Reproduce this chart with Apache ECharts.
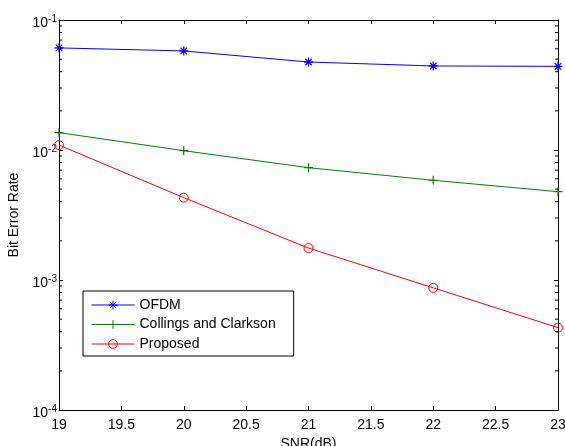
<!DOCTYPE html>
<html><head><meta charset="utf-8">
<script src="https://cdn.jsdelivr.net/npm/echarts@6/dist/echarts.min.js"></script>
<style>html,body{margin:0;padding:0;background:#fff}#c{width:565px;height:446px}</style>
</head><body><div id="c"></div>
<script>
var snr = [19, 20, 21, 22, 23];
var ofdm = [0.061, 0.0578, 0.0475, 0.0443, 0.0440];
var collings = [0.0136, 0.00988, 0.00731, 0.00585, 0.00478];
var proposed = [0.0109, 0.0043, 0.00176, 0.00087, 0.00043];
var seriesNames = ['OFDM', 'Collings and Clarkson', 'Proposed'];
var xLabel = 'SNR(dB)';
var yLabel = 'Bit Error Rate';
var minorTickValues = [];
[-4, -3, -2].forEach(function (k) { for (var m = 2; m <= 9; m++) minorTickValues.push(m * Math.pow(10, k)); });

var FONT = 'Liberation Sans, Arial, Helvetica, sans-serif';
var FS = 14;
function pairs(ys) { return snr.map(function (x, i) { return [x, ys[i]]; }); }
var asterisk = 'path://M0,-5L0,5M-5,0L5,0M-3.6,-3.6L3.6,3.6M-3.6,3.6L3.6,-3.6';
var plus = 'path://M0,-5L0,5M-5,0L5,0';

var xCommon = { type: 'value', min: 19, max: 23, interval: 0.5, splitLine: { show: false },
  axisLine: { lineStyle: { color: '#000', width: 1 } },
  axisTick: { inside: true, length: 4, lineStyle: { color: '#000' } } };
var yCommon = { type: 'log', logBase: 10, min: 0.0001, max: 0.1, splitLine: { show: false },
  axisLine: { lineStyle: { color: '#000', width: 1 } },
  axisTick: { inside: true, length: 4, lineStyle: { color: '#000' } } };

var chart = echarts.init(document.getElementById('c'));
chart.setOption({
  animation: false,
  backgroundColor: '#fff',
  grid: { left: 59, right: 7, top: 20, bottom: 36, containLabel: false, outerBoundsMode: 'none' },
  legend: {
    data: seriesNames, orient: 'vertical', left: 83, top: 291,
    itemWidth: 43, itemHeight: 11, itemGap: 5.5,
    padding: [7, 18, 5, 8], borderColor: '#000', borderWidth: 1, backgroundColor: '#fff',
    lineStyle: { width: 1 },
    itemStyle: { borderWidth: 1 },
    textStyle: { fontFamily: FONT, fontSize: FS, color: '#000' }
  },
  xAxis: [
    Object.assign({}, xCommon, { position: 'bottom',
      axisLabel: { fontFamily: FONT, fontSize: FS, color: '#000', margin: 8 },
      name: xLabel, nameLocation: 'middle', nameGap: 25,
      nameTextStyle: { fontFamily: FONT, fontSize: FS, color: '#000' } }),
    Object.assign({}, xCommon, { position: 'top', axisLabel: { show: false } })
  ],
  yAxis: [
    Object.assign({}, yCommon, { position: 'left',
      axisLabel: { margin: 2, color: '#000', padding: [7, 0, 0, 0],
        formatter: function (v) { return '{b|10}{s|' + Math.round(Math.log10(v)) + '}'; },
        rich: { b: { fontFamily: FONT, fontSize: FS, color: '#000' },
                s: { fontFamily: FONT, fontSize: 10, color: '#000', padding: [0, 0, 9, 0] } } },
      name: yLabel, nameLocation: 'middle', nameGap: 37, nameRotate: 90,
      nameTextStyle: { fontFamily: FONT, fontSize: FS, color: '#000' } }),
    Object.assign({}, yCommon, { position: 'right', axisLabel: { show: false } })
  ],
  series: [
    { name: seriesNames[0], type: 'line', data: pairs(ofdm), symbol: asterisk, symbolSize: 9,
      lineStyle: { color: '#0000ff', width: 1 },
      itemStyle: { color: '#0000ff', borderColor: '#0000ff', borderWidth: 1.2 } },
    { name: seriesNames[1], type: 'line', data: pairs(collings), symbol: plus, symbolSize: 9,
      lineStyle: { color: '#008000', width: 1 },
      itemStyle: { color: '#008000', borderColor: '#008000', borderWidth: 1.2 } },
    { name: seriesNames[2], type: 'line', data: pairs(proposed), symbol: 'circle', symbolSize: 9,
      lineStyle: { color: '#ff0000', width: 1 },
      itemStyle: { color: 'rgba(0,0,0,0)', borderColor: '#ff0000', borderWidth: 1 } },
    { type: 'custom', silent: true, z: 10, clip: false,
      data: minorTickValues.map(function (v) { return [v]; }),
      renderItem: function (params, api) {
        var v = api.value(0);
        var l = api.coord([19, v]), r = api.coord([23, v]);
        return { type: 'group', children: [
          { type: 'line', shape: { x1: l[0], y1: l[1], x2: l[0] + 3, y2: l[1] }, style: { stroke: '#000', lineWidth: 1 } },
          { type: 'line', shape: { x1: r[0], y1: r[1], x2: r[0] - 3, y2: r[1] }, style: { stroke: '#000', lineWidth: 1 } }
        ] };
      } }
  ]
});
</script></body></html>
